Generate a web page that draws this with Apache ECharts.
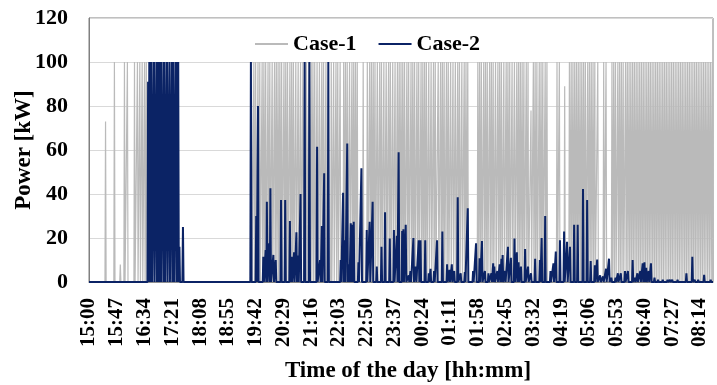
<!DOCTYPE html>
<html>
<head>
<meta charset="utf-8">
<script src="https://cdn.jsdelivr.net/npm/echarts@6/dist/echarts.min.js"></script>
<style>
  html, body { margin: 0; padding: 0; background: #fff; }
  #chart { width: 717px; height: 385px; }
</style>
</head>
<body>
<div id="chart"></div>
<script>
// Time axis: minutes after 15:00; labels every 47 minutes
const startMinuteOfDay = 900;      // 15:00
const xMaxMinutes = 1056;          // end of record (~08:36)
const tickStepMinutes = 47;
const yTicks = [0, 20, 40, 60, 80, 100, 120];
const seriesNames = ['Case-1', 'Case-2'];

// Case-1: [minute, kW] or [minute, kW, lastMinuteOfPlateau]; unlisted minutes are 0 kW
const case1Power = [
  [28,73],[43,100],[53,8],[60,100],[65,100],[77,100],[82,100],[86,100],[90,100],[94,100],[97,100],
  [275,100],[279,100],[282,100],[286,100],[289,100],[293,100],[296,100],[299,100],[303,100],[306,100],
  [310,100],[314,100],[317,100],[320,100],[323,100],[326,100],[330,100],[333,100],[336,100],[340,100],
  [343,100],[346,100],[350,100],[354,100],[358,100],[362,100],[365,100],[368,100],[372,100],[376,100],
  [379,100],[382,100],[386,100],[390,100],[394,100],[397,100],[401,100],[410,100],[414,100],[418,100],
  [421,100],[425,100],[431,100],[434,100],[437,100],[441,100],[445,100],[448,100],[451,100],[454,100],
  [464,100],[471,100],[475,100],[478,100],[481,100],[484,100],[488,100],[492,100],[495,100],[499,100],
  [503,100],[507,100],[510,100],[514,100],[518,100],[522,100],[525,100],[528,100],[531,100],[534,100],
  [538,100],[541,100],[545,100],[548,100],[551,100],[555,100],[558,100],[562,100],[565,100],[568,100],
  [571,100],[575,100],[579,100],[583,100],[586,100],[591,100],[595,100],[598,100],[601,100],[605,100],
  [608,100],[612,100],[616,100],[620,100],[624,100],[627,100],[631,100],[635,100],[638,100],[641,100],
  [658,100],[661,100],[664,100],[668,100],[671,100],[674,100],[678,100],[681,100],[684,100],[688,100],
  [692,100],[695,100],[698,100],[702,100],[706,100],[709,100],[712,100],[716,100],[720,100],[724,100],
  [727,100],[730,100],[733,100],[736,100],[740,100],[743,100],[748,78],[752,100],[755,100],[758,100],
  [762,100],[765,100],[768,100],[772,100],[775,100],[792,100],[796,100],[805,89],[813,100],[816,100],
  [819,100],[822,100],[825,100],[828,100],[831,100],[834,100],[837,100],[840,100],[844,100],[847,100],
  [850,100],[853,100],[856,100],[861,100],[871,100],[875,100],[885,100],[888,100],[891,100],[895,100],
  [898,100],[901,100],[904,100],[908,100],[911,100],[914,100],[917,100],[920,100],[923,100],[926,100],
  [929,100],[932,100],[935,100],[938,100],[941,100],[944,100],[947,100],[950,100],[953,100],[956,100],
  [959,100],[962,100],[965,100],[968,100],[971,100],[974,100],[977,100],[980,100],[983,100],[986,100],
  [989,100],[992,100],[995,100],[998,100],[1001,100],[1004,100],[1007,100],[1010,100],[1013,100],
  [1016,100],[1019,100],[1022,100],[1025,100],[1028,100],[1031,100],[1034,100],[1037,100],[1040,100],
  [1043,100],[1046,100],[1049,100],[1052,100],[1055,100]
];

// Case-2: same encoding
const case2Power = [
  [100,91],[102,100],[104,100],[106,100],[110,100],[114,100],[116,100],[118,100],[120,100],[122,100],
  [126,100],[128,100],[132,100],[136,100],[140,100],[143,100],[147,100],[149,100],[151,100],
  [153,16],[159,25],
  [274,100],[283,30],[286,80],[295,11.5],[299,14.5],[301,36.5],[305,17.6],[307,42.6],[312,12.3],
  [316,10],[325,37.3],[332,37.3],[340,27.7],[343,11.5],[347,13.5],[351,22.6],[354,12],[358,40],
  [365,100],[373,100],[386,61.5],[391,10],[394,25.5],[398,49.4],[405,100],[426,10],[430,40.6],
  [433,19],[437,63],[440,8],[443,26.7],[446,26],[448,27.4],[456,9],[461,51.7],[470,23.6],[475,27.4],
  [480,36.5],[487,7],[495,16],[501,31.7],[509,19.8],[516,23.6],[521,21],[524,59],[530,23.2],[532,24],
  [536,26],[541,3],[544,5],[549,20],[553,7],[558,19],[561,19],[569,19],[575,4],[578,6],[584,5],
  [589,19],[598,23],[606,8],[610,5.5],[614,8],[618,5],[624,38.5],[629,4],[636,4.5],[641,33.5],
  [650,5],[655,17.6],[661,10.8],[665,18.6],[670,5],[676,4],[681,4],[684,8.5],[686,7],[691,5],
  [695,8],[698,10.5],[700,12.3],[704,5],[709,16],[714,11],[720,19.8],[724,13.5],[727,9],[731,7],
  [738,15],[743,7],[748,4],[755,10.5],[763,10],[766,20],[772,30],[781,5],[786,8.5],[790,13.8],
  [797,19],[804,23],[809,18.3],[814,16],[821,26],[827,26],[836,42.3],[843,37.3],[849,9.5],[856,7.6],
  [860,10.2],[865,3],[870,2.5],[875,6],[880,10.6],[884,2],[891,2],[895,4],[900,4],[907,5],[912,5],
  [920,10],[924,2],[928,4],[933,5],[937,8.5],[940,9],[943,6.5],[947,5],[951,8.5],[957,2],[963,1],
  [971,1],[979,1],[983,1],[987,1],[996,1],[1011,4],[1021,11.5],[1025,1],[1031,1],[1041,3.3],[1052,1]
];

function buildLine(points) {
  const out = [[0, 0]];
  let last = 0;
  points.forEach((p, i) => {
    const m = p[0], v = p[1];
    const end = p.length > 2 ? p[2] : m;
    if (m - 1 > last) out.push([m - 1, 0]);
    out.push([m, v]);
    if (end !== m) out.push([end, v]);
    last = end;
    const next = points[i + 1];
    if (!next || next[0] > end + 1) { out.push([Math.min(end + 1, xMaxMinutes), 0]); last = end + 1; }
  });
  if (last < xMaxMinutes) out.push([xMaxMinutes, 0]);
  return out;
}

function fmtTime(v) {
  const t = (startMinuteOfDay + Math.round(v)) % 1440;
  const h = Math.floor(t / 60), m = t % 60;
  return String(h).padStart(2, '0') + ':' + String(m).padStart(2, '0');
}

const FONT = "'Liberation Serif', 'Times New Roman', serif";
const chart = echarts.init(document.getElementById('chart'), null, { renderer: 'canvas' });
chart.setOption({
  animation: false,
  backgroundColor: '#ffffff',
  grid: {
    left: 89, right: 4, top: 18, bottom: 103, containLabel: false, outerBoundsMode: 'none',
    show: true, borderColor: '#808080', borderWidth: 1
  },
  legend: {
    data: seriesNames,
    left: 250, top: 28,
    icon: 'rect', itemWidth: 33, itemHeight: 2, itemGap: 22,
    textStyle: { fontFamily: FONT, fontWeight: 'bold', fontSize: 22, color: '#000' }
  },
  xAxis: {
    type: 'value', min: 0, max: xMaxMinutes, interval: tickStepMinutes,
    name: 'Time of the day [hh:mm]', nameLocation: 'middle', nameGap: 78, nameMoveOverlap: false,
    nameTextStyle: { fontFamily: FONT, fontWeight: 'bold', fontSize: 23, color: '#000', padding: [0, 0, 0, 14] },
    axisLine: { show: true, lineStyle: { color: '#808080' } },
    axisTick: { show: false },
    splitLine: { show: false },
    axisLabel: {
      rotate: 90, margin: 16, showMaxLabel: false,
      fontFamily: FONT, fontWeight: 'bold', fontSize: 21, color: '#000',
      formatter: fmtTime
    }
  },
  yAxis: {
    type: 'value', min: yTicks[0], max: yTicks[yTicks.length - 1], interval: yTicks[1] - yTicks[0],
    name: 'Power [kW]', nameLocation: 'middle', nameGap: 53, nameMoveOverlap: false,
    nameTextStyle: { fontFamily: FONT, fontWeight: 'bold', fontSize: 23, color: '#000' },
    axisLine: { show: true, lineStyle: { color: '#808080' } },
    axisTick: { show: false },
    splitLine: { show: true, lineStyle: { color: '#d9d9d9', width: 1 } },
    axisLabel: { margin: 21, fontFamily: FONT, fontWeight: 'bold', fontSize: 22, color: '#000' }
  },
  series: [
    {
      name: seriesNames[0], type: 'line', data: buildLine(case1Power),
      symbol: 'none', color: '#bababa',
      lineStyle: { color: '#bababa', width: 1.2 }, z: 2
    },
    {
      name: seriesNames[1], type: 'line', data: buildLine(case2Power),
      symbol: 'none', color: '#0b2365',
      lineStyle: { color: '#0b2365', width: 2 }, z: 3
    }
  ]
});
</script>
</body>
</html>
